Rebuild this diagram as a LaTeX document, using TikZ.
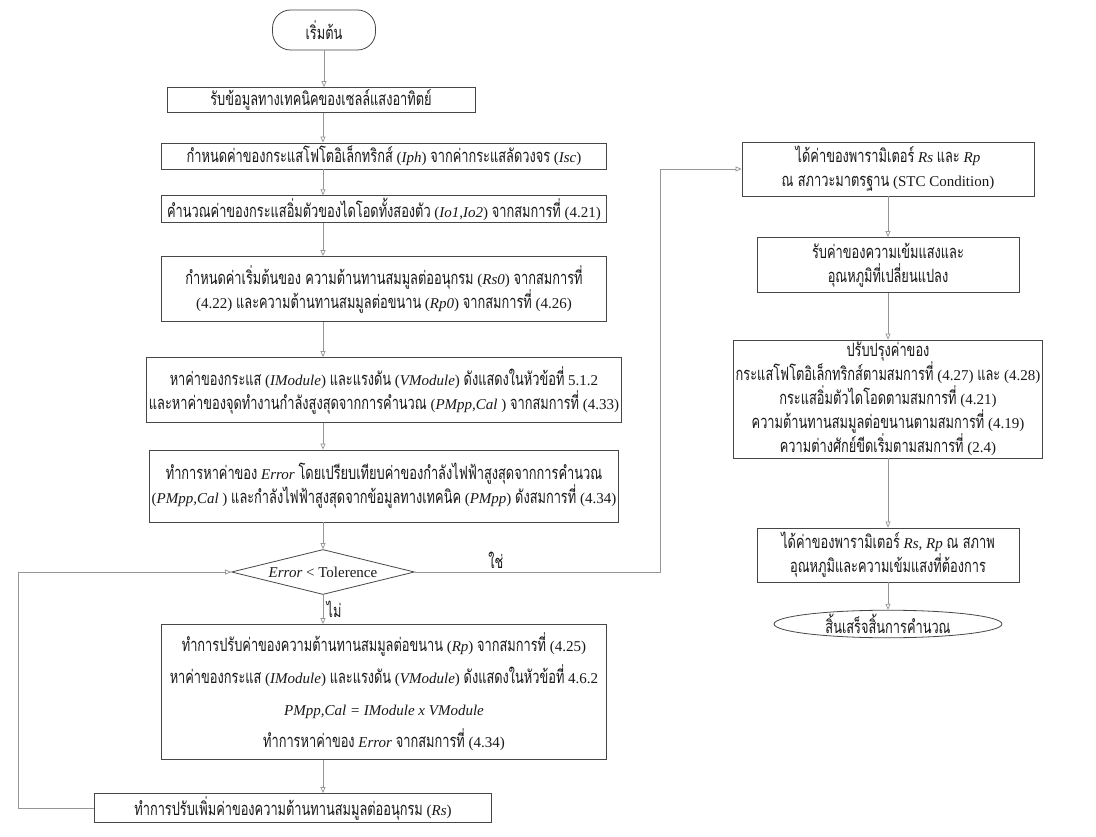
\documentclass[tikz,border=0pt]{standalone}
\usepackage{fontspec}
\setmainfont{Liberation Serif}
\newfontfamily\thaifont[Script=Thai,Scale=1.22,FakeStretch=0.70]{Loma}
\newcommand{\tx}[1]{{\thaifont #1}}
\usetikzlibrary{shapes.geometric, arrows.meta, positioning}
\definecolor{boxgray}{RGB}{70,70,70}
\definecolor{linegray}{RGB}{150,150,150}
\tikzset{
	>={Triangle[open, length=6pt, width=5pt]}, % hollow arrow heads
	every node/.style={font=\fontsize{15}{24}\selectfont, text=black!90},
	box/.style={draw=boxgray, line width=0.8pt, align=center, inner sep=2pt},
	wide/.style={box, minimum width=445pt}, % the long boxes of the left column
	link/.style={->, draw=linegray, line width=0.7pt},
}

\begin{document}
\begin{tikzpicture}[x=1pt, y=-1pt]
	\fill[white] (0,0) rectangle (1096,837);
	\useasboundingbox (0,0) rectangle (1096,837);
	% left column
	\node[box, rounded corners=18pt, minimum width=103pt, minimum height=40pt] (start) at (324,30) {\tx{เริ่มต้น}};
	\node[box, minimum width=308pt, minimum height=24pt] (b1) at (321,100) {\tx{รับข้อมูลทางเทคนิคของเซลล์แสงอาทิตย์}};
	\node[wide, minimum height=26pt] (b2) at (384,156) {\tx{กำหนดค่าของกระแสโฟโตอิเล็กทริกส์} (\textit{Iph}) \tx{จากค่ากระแสลัดวงจร} (\textit{Isc})};
	\node[wide, minimum height=26pt] (b3) at (384,209) {\tx{คำนวณค่าของกระแสอิ่มตัวของไดโอดทั้งสองตัว} (\textit{Io1,Io2}) \tx{จากสมการที่} (4.21)};
	\node[wide, minimum height=65pt] (b4) at (384,289) {\tx{กำหนดค่าเริ่มต้นของ ความต้านทานสมมูลต่ออนุกรม} (\textit{Rs0}) \tx{จากสมการที่}\\(4.22) \tx{และความต้านทานสมมูลต่อขนาน} (\textit{Rp0}) \tx{จากสมการที่} (4.26)};
	\node[wide, minimum height=65pt] (b5) at (384,390) {\tx{หาค่าของกระแส} (\textit{IModule}) \tx{และแรงดัน} (\textit{VModule}) \tx{ดังแสดงในหัวข้อที่} 5.1.2\\\tx{และหาค่าของจุดทำงานกำลังสูงสุดจากการคำนวณ} (\textit{PMpp,Cal }) \tx{จากสมการที่} (4.33)};
	\node[wide, minimum height=72pt] (b6) at (384,486) {\tx{ทำการหาค่าของ} \textit{Error} \tx{โดยเปรียบเทียบค่าของกำลังไฟฟ้าสูงสุดจากการคำนวณ}\\(\textit{PMpp,Cal }) \tx{และกำลังไฟฟ้าสูงสุดจากข้อมูลทางเทคนิค} (\textit{PMpp}) \tx{ดังสมการที่} (4.34)};
	\node[draw=boxgray, line width=0.8pt, diamond, aspect=4, inner sep=0pt, minimum width=183pt, minimum height=45pt] (dec) at (323,572) {\textit{Error} < Tolerence};
	\node[wide, minimum height=135pt, font=\fontsize{15}{32}\selectfont] (b7) at (384,692) {\tx{ทำการปรับค่าของความต้านทานสมมูลต่อขนาน} (\textit{Rp}) \tx{จากสมการที่} (4.25)\\\tx{หาค่าของกระแส} (\textit{IModule}) \tx{และแรงดัน} (\textit{VModule}) \tx{ดังแสดงในหัวข้อที่} 4.6.2\\\textit{PMpp,Cal = IModule x VModule}\\\tx{ทำการหาค่าของ} \textit{Error} \tx{จากสมการที่} (4.34)};
	\node[box, minimum width=397pt, minimum height=29pt] (b8) at (293,808) {\tx{ทำการปรับเพิ่มค่าของความต้านทานสมมูลต่ออนุกรม} (\textit{Rs})};
	% right column
	\node[box, minimum width=292pt, minimum height=54pt] (r1) at (888,169) {\tx{ได้ค่าของพารามิเตอร์} \textit{Rs} \tx{และ} \textit{Rp}\\\tx{ณ สภาวะมาตรฐาน} (STC Condition)};
	\node[box, minimum width=262pt, minimum height=55pt] (r2) at (888,265) {\tx{รับค่าของความเข้มแสงและ}\\\tx{อุณหภูมิที่เปลี่ยนแปลง}};
	\node[box, minimum width=292pt, minimum height=118pt] (r3) at (888,399) {\tx{ปรับปรุงค่าของ}\\\tx{กระแสโฟโตอิเล็กทริกส์ตามสมการที่} (4.27) \tx{และ} (4.28)\\\tx{กระแสอิ่มตัวไดโอดตามสมการที่} (4.21)\\\tx{ความต้านทานสมมูลต่อขนานตามสมการที่} (4.19)\\\tx{ความต่างศักย์ขีดเริ่มตามสมการที่} (2.4)};
	\node[box, minimum width=262pt, minimum height=54pt] (r4) at (888,555) {\tx{ได้ค่าของพารามิเตอร์} \textit{Rs, Rp} \tx{ณ สภาพ}\\\tx{อุณหภูมิและความเข้มแสงที่ต้องการ}};
	\node[draw=boxgray, line width=0.8pt, ellipse, inner sep=0pt, minimum width=228pt, minimum height=26pt] (stop) at (888,624) {\tx{สิ้นเสร็จสิ้นการคำนวณ}};
	% turning points of the connectors
	\coordinate (colL) at (323,0);
	\coordinate (colR) at (888,0);
	\coordinate (loopL) at (18,0);
	\coordinate (yesR) at (660,0);
	\draw[link] (start.south) -- (start.south |- b1.north);
	\foreach \a/\b in {b1/b2, b2/b3, b3/b4, b4/b5, b5/b6, b6/dec, b7/b8}
		\draw[link] (\a.south -| colL) -- (\b.north -| colL);
	\draw[link] (dec.south) -- node[right]{\tx{ไม่}} (b7.north -| colL);
	\draw[link] (b8.west) -- (b8.west -| loopL) |- (dec.west);
	\draw[link] (dec.east) -- node[above, pos=0.33]{\tx{ใช่}} (dec.east -| yesR) |- (r1.west);
	\foreach \a/\b in {r1/r2, r2/r3, r3/r4, r4/stop}
		\draw[link] (\a.south -| colR) -- (\b.north -| colR);
\end{tikzpicture}
\end{document}
